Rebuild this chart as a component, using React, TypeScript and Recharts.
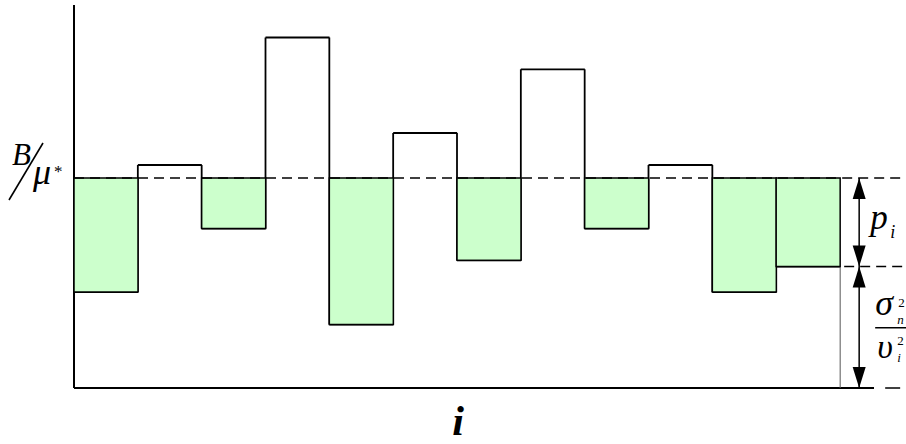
import React from 'react';
import { ComposedChart, Bar, XAxis, YAxis, ReferenceLine } from 'recharts';

// Sub-channel index labels
const categories = ['1', '2', '3', '4', '5', '6', '7', '8', '9', '10', '11', '12'];
// Noise-to-gain levels sigma_n^2 / v_i^2 per sub-channel (arbitrary units)
const noiseLevels = [96, 223, 159.5, 350.5, 63.5, 255, 127.7, 318.7, 159.5, 223, 96, 121.5];
// Water level B / mu*
const waterLevel = 210;
const yDomainMax = 383;

const data = categories.map((c, i) => ({
  ch: c,
  noise: noiseLevels[i],
  power: Math.max(0, waterLevel - noiseLevels[i]),
}));

const SERIF = "'Liberation Serif', 'Times New Roman', serif";
const LAST = categories.length - 1;

const NoiseShape = (props: any) => {
  const { x, y, width, height, index, payload } = props;
  if (!payload || !payload.noise) return null;
  const base = y + height;
  const k = height / payload.noise;
  const toY = (v: number) => base - v * k;
  const wy = toY(waterLevel);
  const els: any[] = [];
  els.push(<line key="top" x1={x} y1={y} x2={x + width} y2={y} stroke="#000" strokeWidth={1.8} />);
  if (index > 0) {
    els.push(
      <line key="v" x1={x} y1={toY(noiseLevels[index - 1])} x2={x} y2={y} stroke="#000" strokeWidth={1.8} />
    );
  }
  if (index === 0) {
    // axes
    els.push(<line key="yaxis" x1={x} y1={toY(yDomainMax)} x2={x} y2={base} stroke="#000" strokeWidth={2} />);
    els.push(
      <line key="xaxis" x1={x} y1={base} x2={x + width * categories.length + 32} y2={base} stroke="#000" strokeWidth={2} />
    );
    // left label B / mu*
    els.push(
      <text key="B" x={x - 62} y={wy - 13} fontFamily={SERIF} fontStyle="italic" fontSize={31} fill="#000">B</text>
    );
    els.push(<line key="slash" x1={x - 65} y1={wy + 22} x2={x - 31} y2={wy - 35} stroke="#000" strokeWidth={1.6} />);
    els.push(
      <text key="mu" x={x - 41} y={wy + 6} fontFamily={SERIF} fontStyle="italic" fontSize={36} fill="#000">μ</text>
    );
    els.push(
      <text key="star" x={x - 20} y={wy - 1} fontFamily={SERIF} fontSize={17} fill="#000">*</text>
    );
    // x-axis label i
    els.push(
      <text key="i" x={x + width * 6} y={base + 47} textAnchor="middle" fontFamily={SERIF} fontStyle="italic" fontWeight="bold" fontSize={42} fill="#000">i</text>
    );
  }
  if (index === LAST) {
    const xr = x + width;
    const ax = xr + 19;
    const ah = 21;
    const aw = 6.5;
    const up = (ty: number) => `${ax},${ty} ${ax - aw},${ty + ah} ${ax + aw},${ty + ah}`;
    const down = (ty: number) => `${ax},${ty} ${ax - aw},${ty - ah} ${ax + aw},${ty - ah}`;
    els.push(<line key="rv" x1={xr} y1={y} x2={xr} y2={base} stroke="#555" strokeWidth={1} />);
    els.push(<line key="wd" x1={xr + 2} y1={wy} x2={906} y2={wy} stroke="#000" strokeWidth={1.5} strokeDasharray="10 6" />);
    els.push(<line key="nd" x1={xr + 4} y1={y} x2={906} y2={y} stroke="#000" strokeWidth={1.5} strokeDasharray="10 6" />);
    els.push(<line key="bd" x1={xr + 45} y1={base} x2={xr + 60} y2={base} stroke="#000" strokeWidth={1.5} />);
    els.push(<line key="shaft" x1={ax} y1={wy} x2={ax} y2={base} stroke="#000" strokeWidth={1.5} />);
    els.push(<polygon key="a1" points={up(wy)} fill="#000" />);
    els.push(<polygon key="a2" points={down(y)} fill="#000" />);
    els.push(<polygon key="a3" points={up(y)} fill="#000" />);
    els.push(<polygon key="a4" points={down(base)} fill="#000" />);
    // p_i
    const pm = (wy + y) / 2;
    els.push(
      <text key="p" x={xr + 30} y={pm + 7} fontFamily={SERIF} fontStyle="italic" fontSize={35} fill="#000">p</text>
    );
    els.push(
      <text key="pi" x={xr + 50} y={pm + 16} fontFamily={SERIF} fontStyle="italic" fontSize={18} fill="#000">i</text>
    );
    // sigma_n^2 / v_i^2
    const fy = (y + base) / 2 + 0.5;
    els.push(
      <text key="sig" x={xr + 35} y={fy - 13} fontFamily={SERIF} fontStyle="italic" fontSize={36} fill="#000">σ</text>
    );
    els.push(
      <text key="s2" x={xr + 58} y={fy - 21} fontFamily={SERIF} fontSize={13} fill="#000">2</text>
    );
    els.push(
      <text key="sn" x={xr + 57} y={fy - 4} fontFamily={SERIF} fontStyle="italic" fontSize={13} fill="#000">n</text>
    );
    els.push(<line key="frac" x1={xr + 35} y1={fy} x2={xr + 66} y2={fy} stroke="#000" strokeWidth={1.5} />);
    els.push(
      <text key="ups" x={xr + 37} y={fy + 30} fontFamily={SERIF} fontStyle="italic" fontSize={34} fill="#000">υ</text>
    );
    els.push(
      <text key="u2" x={xr + 57} y={fy + 17} fontFamily={SERIF} fontSize={13} fill="#000">2</text>
    );
    els.push(
      <text key="ui" x={xr + 57} y={fy + 34} fontFamily={SERIF} fontStyle="italic" fontSize={13} fill="#000">i</text>
    );
  }
  return <g>{els}</g>;
};

const PowerShape = (props: any) => {
  const { x, y, width, height } = props;
  if (!height || height <= 0) return null;
  return <rect x={x} y={y} width={width} height={height} fill="#ccffcc" stroke="#000" strokeWidth={1.5} />;
};

export default function App() {
  return (
    <div style={{ position: 'absolute', left: 0, top: 0, width: 906, height: 444, background: '#fff' }}>
      <ComposedChart
        width={906}
        height={444}
        data={data}
        margin={{ top: 5, right: 66, bottom: 56, left: 74 }}
        barCategoryGap={0}
        barGap={0}
      >
        <XAxis dataKey="ch" hide />
        <YAxis hide domain={[0, yDomainMax]} />
        <Bar dataKey="noise" stackId="s" shape={NoiseShape} isAnimationActive={false} />
        <Bar dataKey="power" stackId="s" shape={PowerShape} isAnimationActive={false} />
        <ReferenceLine y={waterLevel} stroke="#000" strokeWidth={1.5} strokeDasharray="10 6" />
      </ComposedChart>
    </div>
  );
}
